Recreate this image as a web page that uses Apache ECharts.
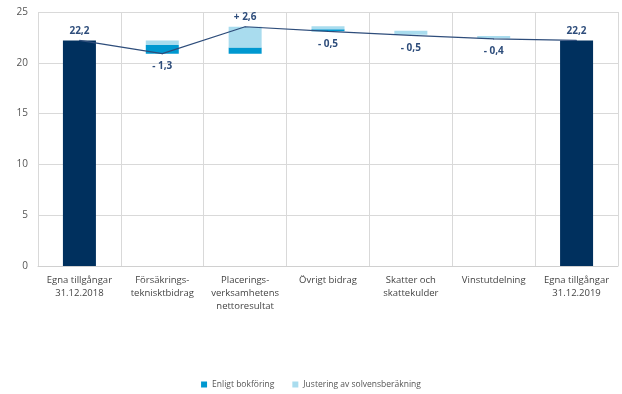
<!DOCTYPE html>
<html>
<head>
<meta charset="utf-8">
<script src="https://cdn.jsdelivr.net/npm/echarts@6/dist/echarts.min.js"></script>
<style>
    html, body { margin: 0; padding: 0; background: #fff; }
    #chart { width: 622px; height: 394px; }
</style>
</head>
<body>
<div id="chart"></div>
<script>
var categories = ['Egna tillgångar\n31.12.2018', 'Försäkrings-\nteknisktbidrag', 'Placerings-\nverksamhetens\nnettoresultat',
    'Övrigt bidrag', 'Skatter och\nskattekulder', 'Vinstutdelning', 'Egna tillgångar\n31.12.2019'];
var totals = [22.2, '-', '-', '-', '-', '-', 22.2];
var bases = [0, 20.9, 20.9, 23.1, 22.75, 22.4, 0];
var bokforing = [0, 0.85, 0.6, 0.2, 0, 0, 0];
var justering = [0, 0.45, 2.05, 0.3, 0.4, 0.25, 0];
var linePoints = [22.2, 20.9, 23.55, 23.1, 22.7, 22.35, 22.2];
var changeLabels = ['22,2', '- 1,3', '+ 2,6', '- 0,5', '- 0,5', '- 0,4', '22,2'];
var yTicks = [0, 5, 10, 15, 20, 25];

var chart = echarts.init(document.getElementById('chart'));

// linjen med etiketter, negativa under och övriga över
var lineData = [];
for (var i = 0; i < linePoints.length; i++) {
    var neg = changeLabels[i].charAt(0) == '-';
    lineData.push({
        value: linePoints[i],
        label: {
            position: neg ? 'bottom' : 'top',
            distance: neg ? 7 : 4,
            formatter: changeLabels[i]
        }
    });
}

var option = {
    animation: false,
    textStyle: { fontFamily: 'Open Sans' },
    grid: { left: 38, right: 4, top: 12, bottom: 128 },
    legend: {
        bottom: 0,
        left: 'center',
        itemWidth: 6,
        itemHeight: 6,
        itemGap: 18,
        icon: 'rect',
        textStyle: { fontSize: 8.5, color: '#555', fontFamily: 'Open Sans' },
        data: ['Enligt bokföring', 'Justering av solvensberäkning']
    },
    xAxis: {
        type: 'category',
        data: categories,
        axisTick: { show: false },
        axisLine: { lineStyle: { color: '#d0d0d0' } },
        axisLabel: { color: '#444', fontSize: 9.5, lineHeight: 13, margin: 8, interval: 0 },
        splitLine: { show: true, lineStyle: { color: '#d9d9d9' } }
    },
    yAxis: {
        type: 'value',
        min: yTicks[0],
        max: yTicks[yTicks.length - 1],
        interval: 5,
        axisLine: { show: false },
        axisTick: { show: false },
        axisLabel: { color: '#555', fontSize: 10, margin: 10 },
        splitLine: { lineStyle: { color: '#d9d9d9' } }
    },
    series: [
        {
            name: 'base', type: 'bar', stack: 'w', barWidth: 33,
            itemStyle: { color: 'transparent' },
            data: bases
        },
        {
            name: 'Enligt bokföring', type: 'bar', stack: 'w', barWidth: 33,
            itemStyle: { color: '#0098d0' },
            data: bokforing
        },
        {
            name: 'Justering av solvensberäkning', type: 'bar', stack: 'w', barWidth: 33,
            itemStyle: { color: '#a9dcee' },
            data: justering
        },
        {
            name: 'total', type: 'bar', stack: 'w', barWidth: 33,
            itemStyle: { color: '#00305e' },
            data: totals
        },
        {
            name: 'linje', type: 'line', z: 5,
            symbol: 'circle', symbolSize: 1,
            itemStyle: { color: '#2e4d7b' },
            lineStyle: { color: '#2e4d7b', width: 1.2 },
            label: { show: true, color: '#2e4d7b', fontSize: 10, fontWeight: 'bold', fontFamily: 'Open Sans' },
            data: lineData
        }
    ]
};
chart.setOption(option, true);
</script>
</body>
</html>
